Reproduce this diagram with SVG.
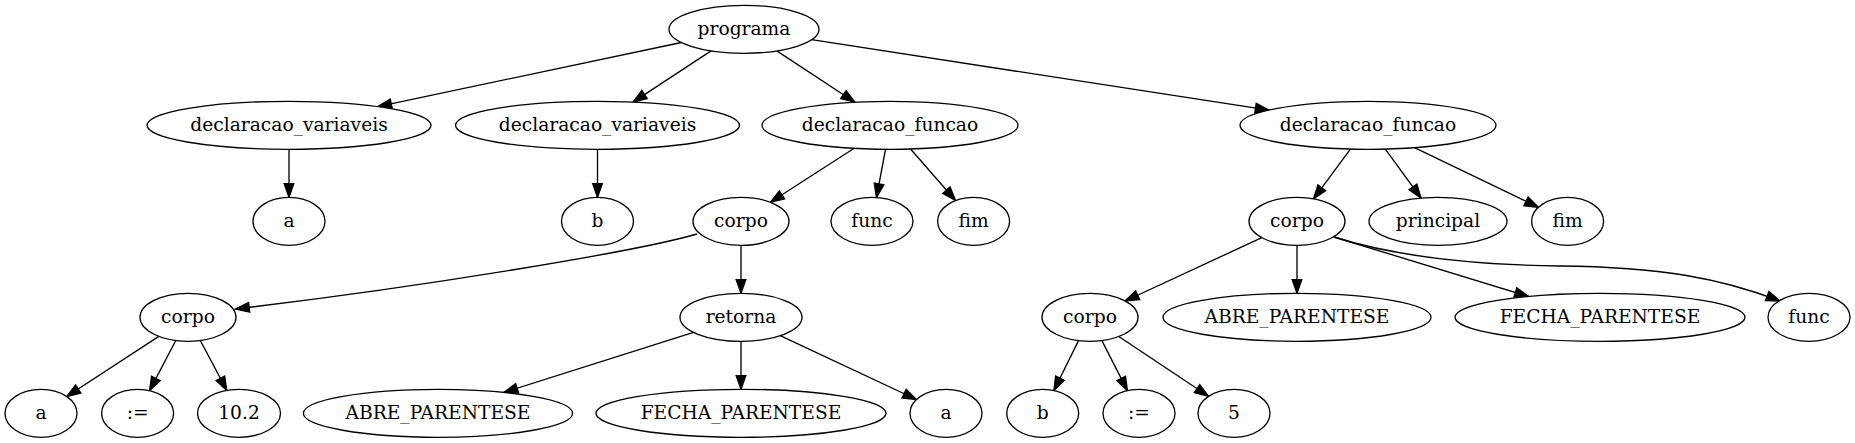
<svg xmlns="http://www.w3.org/2000/svg" width="1855" height="443" viewBox="0 0 1855 443">
<style>
.n ellipse{fill:#fff;stroke:#000;stroke-width:1.33}
.n text{font-family:"DejaVu Serif",serif;font-size:18.67px;text-anchor:middle;fill:#000}
#edges path{fill:none;stroke:#000;stroke-width:1.33;marker-end:url(#ah)}
</style>
<defs>
<marker id="ah" markerUnits="userSpaceOnUse" markerWidth="16" markerHeight="12" viewBox="-1 -1 15.5 11.5" refX="13.3" refY="4.67" orient="auto" overflow="visible">
<path d="M0,0 L13.3,4.67 L0,9.33 Z" fill="#000" stroke="#000" stroke-width="1.33"/>
</marker>
</defs>
<rect width="1855" height="443" fill="#fff"/>
<g id="edges">
<path d="M681.4,42.5 L377.8,106.6"/>
<path d="M711.1,50.9 L633,102.1"/>
<path d="M776.8,50.9 L854.9,102.2"/>
<path d="M811.6,39.7 L1269.1,110.1"/>
<path d="M289,149.3 L289,197.3"/>
<path d="M597.5,149.3 L597.5,197.3"/>
<path d="M854.2,148.3 L770.4,202.3"/>
<path d="M885.5,149.3 L876.5,197.4"/>
<path d="M910.6,149 L955.5,200.5"/>
<path d="M1350.4,149.1 L1313.6,198.8"/>
<path d="M1385.3,149.1 L1421,198"/>
<path d="M1414.5,147.7 L1538.4,207.3"/>
<path d="M697,234 C635,252 420,287 235.5,309"/>
<path d="M741,245.3 L741,293.3"/>
<path d="M1261.8,237.6 L1125.2,301"/>
<path d="M1297,245.3 L1297,293.3"/>
<path d="M1334,237 L1528.5,296.5"/>
<path d="M1334,237 C1400,258 1480,265 1560,266 C1660,267 1720,278 1780,301"/>
<path d="M158.8,336.4 L66.7,396.5"/>
<path d="M175.8,340.5 L149.5,390.6"/>
<path d="M200.3,340.5 L226.8,390.4"/>
<path d="M693.5,332.4 L504,392.4"/>
<path d="M741,341.3 L741,389.3"/>
<path d="M780.2,335.7 L916.5,399.5"/>
<path d="M1078.5,340.6 L1053.9,390.5"/>
<path d="M1101.9,340.6 L1127.4,390.6"/>
<path d="M1118.8,336.5 L1208.5,396.3"/>
</g>
<g id="n0" class="n"><ellipse cx="744" cy="29.3" rx="75" ry="24"/><text x="744" y="34.9">programa</text></g>
<g id="n1" class="n"><ellipse cx="289" cy="125.3" rx="142" ry="24"/><text x="289" y="130.9">declaracao_variaveis</text></g>
<g id="n2" class="n"><ellipse cx="597.5" cy="125.3" rx="142" ry="24"/><text x="597.5" y="130.9">declaracao_variaveis</text></g>
<g id="n3" class="n"><ellipse cx="890" cy="125.3" rx="128" ry="24"/><text x="890" y="130.9">declaracao_funcao</text></g>
<g id="n4" class="n"><ellipse cx="1368" cy="125.3" rx="128" ry="24"/><text x="1368" y="130.9">declaracao_funcao</text></g>
<g id="n5" class="n"><ellipse cx="289" cy="221.3" rx="36" ry="24"/><text x="289" y="226.9">a</text></g>
<g id="n6" class="n"><ellipse cx="597.5" cy="221.3" rx="36" ry="24"/><text x="597.5" y="226.9">b</text></g>
<g id="n7" class="n"><ellipse cx="741" cy="221.3" rx="48" ry="24"/><text x="741" y="226.9">corpo</text></g>
<g id="n8" class="n"><ellipse cx="872" cy="221.3" rx="41" ry="24"/><text x="872" y="226.9">func</text></g>
<g id="n9" class="n"><ellipse cx="973.6" cy="221.3" rx="36" ry="24"/><text x="973.6" y="226.9">fim</text></g>
<g id="n10" class="n"><ellipse cx="1297" cy="221.3" rx="48" ry="24"/><text x="1297" y="226.9">corpo</text></g>
<g id="n11" class="n"><ellipse cx="1438" cy="221.3" rx="69" ry="24"/><text x="1438" y="226.9">principal</text></g>
<g id="n12" class="n"><ellipse cx="1567.6" cy="221.3" rx="36" ry="24"/><text x="1567.6" y="226.9">fim</text></g>
<g id="n13" class="n"><ellipse cx="188" cy="317.3" rx="48" ry="24"/><text x="188" y="322.9">corpo</text></g>
<g id="n14" class="n"><ellipse cx="741" cy="317.3" rx="61" ry="24"/><text x="741" y="322.9">retorna</text></g>
<g id="n15" class="n"><ellipse cx="1090" cy="317.3" rx="48" ry="24"/><text x="1090" y="322.9">corpo</text></g>
<g id="n16" class="n"><ellipse cx="1297" cy="317.3" rx="134" ry="24"/><text x="1297" y="322.9">ABRE_PARENTESE</text></g>
<g id="n17" class="n"><ellipse cx="1600" cy="317.3" rx="145" ry="24"/><text x="1600" y="322.9">FECHA_PARENTESE</text></g>
<g id="n18" class="n"><ellipse cx="1809" cy="317.3" rx="41" ry="24"/><text x="1809" y="322.9">func</text></g>
<g id="n19" class="n"><ellipse cx="41" cy="413.3" rx="36" ry="24"/><text x="41" y="418.9">a</text></g>
<g id="n20" class="n"><ellipse cx="137.6" cy="413.3" rx="36" ry="24"/><text x="137.6" y="418.9">:=</text></g>
<g id="n21" class="n"><ellipse cx="239" cy="413.3" rx="41.5" ry="24"/><text x="239" y="418.9">10.2</text></g>
<g id="n22" class="n"><ellipse cx="438" cy="413.3" rx="134.6" ry="24"/><text x="438" y="418.9">ABRE_PARENTESE</text></g>
<g id="n23" class="n"><ellipse cx="741" cy="413.3" rx="145" ry="24"/><text x="741" y="418.9">FECHA_PARENTESE</text></g>
<g id="n24" class="n"><ellipse cx="946" cy="413.3" rx="36" ry="24"/><text x="946" y="418.9">a</text></g>
<g id="n25" class="n"><ellipse cx="1042.7" cy="413.3" rx="36" ry="24"/><text x="1042.7" y="418.9">b</text></g>
<g id="n26" class="n"><ellipse cx="1139" cy="413.3" rx="36" ry="24"/><text x="1139" y="418.9">:=</text></g>
<g id="n27" class="n"><ellipse cx="1234" cy="413.3" rx="36" ry="24"/><text x="1234" y="418.9">5</text></g>
</svg>
